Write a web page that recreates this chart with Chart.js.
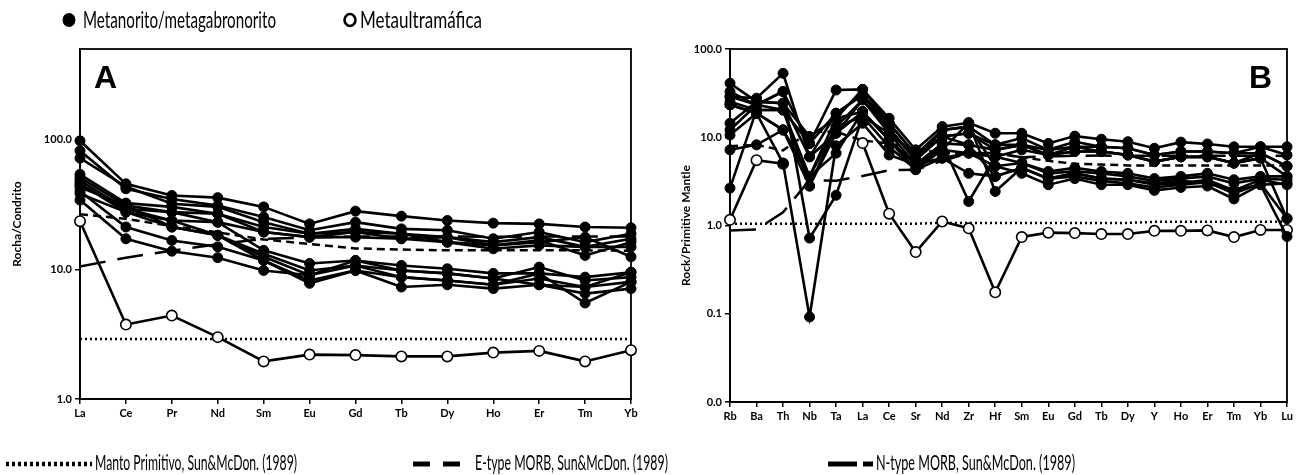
<!DOCTYPE html>
<html>
<head>
<meta charset="utf-8">
<script src="https://cdn.jsdelivr.net/npm/chart.js@4.4.1/dist/chart.umd.min.js"></script>
<style>
  html, body { margin: 0; padding: 0; background: #fff; }
  body { width: 1303px; height: 475px; position: relative; overflow: hidden; font-family: Lato, "Noto Sans", sans-serif; color: #000; }
  canvas { position: absolute; top: 0; }
  #cA { left: 0; }
  #cB { left: 660px; }
  .txt { position: absolute; white-space: nowrap; transform-origin: 0 50%; line-height: 1; }
  svg.sw { position: absolute; left: 0; top: 0; }
</style>
</head>
<body>
<canvas id="cA" width="660" height="430"></canvas>
<canvas id="cB" width="643" height="430"></canvas>

<svg class="sw" width="1303" height="475">
  <!-- series keys -->
  <ellipse cx="69" cy="20" rx="6.5" ry="7" fill="#000"/>
  <ellipse cx="350" cy="20" rx="5.5" ry="6" fill="#fff" stroke="#000" stroke-width="2.6"/>
  <!-- reference line keys -->
  <line x1="6" y1="464" x2="92" y2="464" stroke="#000" stroke-width="4.5" stroke-dasharray="3 3"/>
  <line x1="413" y1="464" x2="470" y2="464" stroke="#000" stroke-width="5" stroke-dasharray="17 13"/>
  <line x1="828" y1="464" x2="857" y2="464" stroke="#000" stroke-width="5"/>
  <line x1="863" y1="464" x2="873" y2="464" stroke="#000" stroke-width="5"/>
</svg>

<div class="txt" data-w="193" style="left:83px;top:7px;font-size:24px;">Metanorito/metagabronorito</div>
<div class="txt" data-w="122" style="left:360px;top:7px;font-size:24px;">Metaultramáfica</div>
<div class="txt" data-w="202" style="left:95px;top:451px;font-size:22px;">Manto Primitivo, Sun&amp;McDon. (1989)</div>
<div class="txt" data-w="193" style="left:475px;top:451px;font-size:22px;">E-type MORB, Sun&amp;McDon. (1989)</div>
<div class="txt" data-w="199" style="left:876px;top:451px;font-size:22px;">N-type MORB, Sun&amp;McDon. (1989)</div>

<script>
// ---------- Panel A: chondrite-normalised REE ----------
const reeLabels = ['La','Ce','Pr','Nd','Sm','Eu','Gd','Tb','Dy','Ho','Er','Tm','Yb'];
const reeTicks = [1, 10, 100];

// metanorito / metagabronorito samples
const reeS1  = [98,   45.6, 37.1, 35.7, 30.3, 22.4, 28.1, 25.7, 23.8, 22.7, 22.4, 21.2, 20.9];
const reeS2  = [82,   41.8, 34.9, 31.0, 25.3, 20.0, 23.1, 20.5, 20.0, 17.2, 19.4, 16.2, 18.8];
const reeS3  = [72,   43.5, 32.0, 30.3, 23.1, 18.8, 20.5, 18.8, 17.7, 16.2, 17.7, 14.9, 17.2];
const reeS4  = [54,   32.4, 30.3, 26.8, 21.2, 18.8, 19.4, 17.2, 17.7, 15.3, 16.7, 12.8, 16.2];
const reeS5  = [51,   31.0, 27.6, 26.8, 19.4, 17.7, 17.7, 17.2, 16.2, 14.4, 15.3, 14.9, 14.9];
const reeS6  = [45,   29.3, 23.8, 23.1, 19.4, 17.7, 19.4, 18.8, 16.2, 15.3, 16.2, 17.7, 12.5];
const reeS7  = [48.4, 29.3, 27.6, 23.1, 14.0, 11.1, 11.7, 10.7, 10.1,  9.3,  9.3,  8.7,  9.5];
const reeS8  = [46,   27.6, 23.8, 18.3, 13.2,  9.8, 10.7,  9.8,  9.3,  8.5, 10.4,  8.2,  8.7];
const reeS9  = [43,   31.0, 21.2, 18.3, 12.5,  9.0, 10.7,  8.7,  8.2,  7.6,  8.5,  7.3,  8.0];
const reeS10 = [38.3, 27.6, 21.2, 18.3, 11.7,  8.2,  9.8,  7.3,  7.6,  7.1,  7.6,  6.5,  7.1];
const reeS11 = [40,   21.2, 16.7, 14.9, 11.7,  7.8,  9.8,  8.7,  8.2,  7.6,  9.3,  5.5,  8.0];
const reeS12 = [34.2, 17.2, 13.8, 12.3,  9.8,  9.0, 11.7,  9.8,  9.3,  8.5,  7.6,  7.3,  9.5];
// metaultramáfica
const reeUM  = [23.5, 3.75, 4.4, 3.0, 1.95, 2.2, 2.18, 2.13, 2.13, 2.28, 2.35, 1.95, 2.38];
// Sun & McDonough (1989) references
const reePM   = [2.9, 2.9, 2.9, 2.9, 2.9, 2.9, 2.9, 2.9, 2.9, 2.9, 2.9, 2.9, 2.9];
const reeEMORB = [26.6, 24.5, 21.6, 19.3, 17.0, 15.7, 14.5, 14.2, 14.0, 14.0, 14.0, 14.0, 13.9];
const reeNMORB = [10.5, 12.3, 13.9, 15.6, 17.2, 17.6, 17.9, 17.9, 17.9, 17.8, 17.9, 17.9, 17.9];

// ---------- Panel B: primitive-mantle-normalised spider diagram ----------
const spLabels = ['Rb','Ba','Th','Nb','Ta','La','Ce','Sr','Nd','Zr','Hf','Sm','Eu','Gd','Tb','Dy','Y','Ho','Er','Tm','Yb','Lu'];
const spTicks = [0.01, 0.1, 1, 10, 100];

const spS1  = [40.9, 25.3, 24.3, 10.2, 16.4, 34.9, 16.4, 7.2, 13.2, 14.6, 11.1, 11.1, 8.5, 10.3, 9.5, 8.9, 7.5, 8.8, 8.4, 7.8, 7.8, 7.8];
const spS2  = [32.9, 23.3, 32.9,  8.5, 34.3, 34.9, 14.4, 6.3, 12.1, 13.2,  8.2,  9.8, 7.2,  8.9, 7.8, 7.5, 6.3, 6.9, 6.9, 6.6, 7.8, 6.3];
const spS3  = [28.9, 27.7, 53,    6.0, 18.7, 30.1, 12.6, 5.5, 10.2, 11.1,  7.2,  8.2, 7.2,  7.8, 7.8, 7.5, 6.3, 6.9, 6.9, 6.6, 6.6, 4.7];
const spS4  = [25.3, 20.4, 20.4,  3.6, 13.2, 26.5, 11.1, 4.9,  8.5,  8.2,  7.2,  8.2, 6.3,  6.9, 6.9, 6.3, 5.3, 6.0, 6.0, 5.1, 5.8, 1.2];
const spS5  = [23.3, 18.7, 12.1,  2.8, 11.1, 19.5,  9.3, 4.3,  7.2,  6.6,  6.0,  7.2, 6.3,  6.9, 6.9, 6.3, 5.3, 6.0, 6.0, 5.1, 5.8, 3.6];
const spS6  = [28.9, 23.3, 20.4,  8.5, 18.7, 30.1, 14.4, 6.3, 10.2, 11.1,  8.2,  8.2, 6.3,  7.8, 6.9, 6.3, 5.3, 6.0, 6.0, 5.1, 6.6, 4.7];
const spS7  = [12.1, 23.3, 33,    0.72, 2.2, 17.1,  7.8, 4.3,  8.5,  1.87, 6.0,  5.1, 4.1,  4.5, 4.1, 3.9, 3.4, 3.6, 3.9, 3.3, 3.6, 3.6];
const spS8  = [10.6, 18.7,  5.1,  0.092, 8.0, 14.4, 6.3, 4.9,  7.2, 14.6,  2.43, 4.5, 3.4,  3.9, 3.4, 3.3, 2.9, 3.0, 3.3, 2.5, 2.9, 3.0];
const spS9  = [7.2,   8.2, 12.1,  3.6,  6.6, 19.5,  9.3, 4.9,  5.8,  6.6,  4.7,  3.9, 2.9,  3.4, 2.9, 2.9, 2.5, 2.7, 2.8, 2.0, 2.9, 0.75];
const spS10 = [2.65, 20.4, 20.4,  2.8, 13.2, 17.1, 11.1, 6.3, 10.2,  8.2,  3.6,  4.5, 3.4,  3.9, 3.4, 3.3, 3.0, 3.2, 3.0, 2.5, 3.3, 2.9];
const spS11 = [14.4, 25.3, 24.3,  6.0, 11.1, 26.5, 12.6, 5.5, 12.1, 13.2,  4.7,  5.1, 3.9,  4.1, 3.9, 3.6, 3.2, 3.4, 3.6, 3.0, 3.4, 3.3];
const spS12 = [23.3, 18.7, 12.1,  3.6, 16.4, 19.5,  9.3, 4.3,  5.8,  3.9,  3.6,  4.5, 3.4,  3.6, 3.2, 3.0, 2.7, 2.9, 3.1, 2.3, 3.0, 1.2];
const spUM  = [1.16, 5.5, 5.0, null, null, 8.6, 1.36, 0.5, 1.11, 0.93, 0.175, 0.74, 0.83, 0.82, 0.80, 0.80, 0.87, 0.87, 0.88, 0.74, 0.89, 0.89];
const spPM    = [1.05, 1.05, 1.05, 1.05, 1.05, 1.05, 1.05, 1.05, 1.07, 1.07, 1.07, 1.07, 1.07, 1.07, 1.07, 1.07, 1.1, 1.1, 1.1, 1.1, 1.1, 1.1];
const spEMORB = [7.9, 8.2, 7.1, 11.6, 11.5, 9.2, 8.5, 7.4, 6.6, 6.5, 6.6, 5.9, 5.4, 5.0, 4.9, 4.8, 4.8, 4.8, 4.8, 4.8, 4.8, 4.8];
const spNMORB = [0.88, 0.90, 1.41, 3.27, 3.22, 3.64, 4.23, 4.27, 5.39, 6.61, 6.63, 5.92, 6.07, 6.17, 6.20, 6.17, 6.15, 6.16, 6.19, 6.16, 6.19, 6.15];

// ---------- styling helpers ----------
const TICK_FONT = { family: 'Lato, "Noto Sans", sans-serif', size: 11, weight: 'bold' };
const TITLE_FONT = { family: 'Lato, "Noto Sans", sans-serif', size: 12, weight: 'bold' };

function sample(data, filled) {
  return {
    data, borderColor: '#000', borderWidth: 2.6,
    pointRadius: filled ? 5 : 5.2, pointHoverRadius: 5,
    pointBackgroundColor: filled ? '#000' : '#fff',
    pointBorderColor: '#000', pointBorderWidth: filled ? 1 : 1.6,
    clip: false, spanGaps: false, order: filled ? 1 : 2
  };
}
function reference(data, dash, width) {
  return {
    data, borderColor: '#000', borderWidth: width, borderDash: dash,
    borderCapStyle: 'butt', pointRadius: 0, clip: false, order: 3
  };
}

// draws the closed frame and the panel letter
const framePlugin = {
  id: 'frame',
  beforeDatasetsDraw(chart, args, opts) {
    const a = chart.chartArea, ctx = chart.ctx;
    ctx.save();
    ctx.strokeStyle = '#000';
    ctx.lineWidth = 1.8;
    ctx.strokeRect(a.left, a.top, a.right - a.left, a.bottom - a.top);
    ctx.font = 'bold 32px "Liberation Sans", Arial, sans-serif';
    ctx.fillStyle = '#000';
    ctx.textBaseline = 'alphabetic';
    ctx.textAlign = opts.align;
    ctx.fillText(opts.letter, opts.x, opts.y);
    ctx.restore();
  }
};

function makePanel(canvasId, labels, sets, ticks, yMin, yMax, dims) {
  return new Chart(document.getElementById(canvasId), {
    type: 'line',
    data: { labels, datasets: sets },
    options: {
      responsive: false, animation: false, devicePixelRatio: 1,
      layout: { padding: { left: 0, top: dims.top, right: dims.right, bottom: 0 } },
      plugins: { legend: { display: false }, tooltip: { enabled: false }, frame: dims.frame },
      scales: {
        x: {
          type: 'category', offset: false,
          grid: { display: true, drawOnChartArea: false, drawTicks: true, tickLength: 5, color: '#000', lineWidth: 1.5 },
          border: { display: true, color: '#000', width: 1.8 },
          ticks: { color: '#000', font: TICK_FONT, padding: 3, maxRotation: 0, autoSkip: false },
          afterFit: s => { s.height = dims.xh; }
        },
        y: {
          type: 'logarithmic', min: yMin, max: yMax,
          grid: { display: true, drawOnChartArea: false, drawTicks: true, tickLength: 5, color: '#000', lineWidth: 1.5 },
          border: { display: true, color: '#000', width: 1.8 },
          afterBuildTicks: s => { s.ticks = ticks.map(v => ({ value: v })); },
          ticks: { color: '#000', font: TICK_FONT, padding: 3, callback: v => Number(v).toFixed(1) },
          title: { display: true, text: dims.title, color: '#000', font: TITLE_FONT, padding: { top: dims.titlePad, bottom: 0 } },
          afterFit: s => { s.width = dims.yw; }
        }
      }
    },
    plugins: [framePlugin]
  });
}

makePanel('cA', reeLabels, [
  sample(reeUM, false),
  sample(reeS1, true), sample(reeS2, true), sample(reeS3, true), sample(reeS4, true),
  sample(reeS5, true), sample(reeS6, true), sample(reeS7, true), sample(reeS8, true),
  sample(reeS9, true), sample(reeS10, true), sample(reeS11, true), sample(reeS12, true),
  reference(reePM, [2, 3], 2.5),
  reference(reeEMORB, [8, 5], 2.5),
  reference(reeNMORB, [26, 12], 2.5)
], reeTicks, 1, 500, {
  top: 49, right: 29, xh: 31, yw: 80, title: 'Rocha/Condrito', titlePad: 10,
  frame: { letter: 'A', x: 94, y: 88, align: 'left' }
});

makePanel('cB', spLabels, [
  sample(spUM, false),
  sample(spS1, true), sample(spS2, true), sample(spS3, true), sample(spS4, true),
  sample(spS5, true), sample(spS6, true), sample(spS7, true), sample(spS8, true),
  sample(spS9, true), sample(spS10, true), sample(spS11, true), sample(spS12, true),
  reference(spPM, [2, 3], 2.5),
  reference(spEMORB, [8, 5], 2.5),
  reference(spNMORB, [26, 12], 2.5)
], spTicks, 0.01, 100, {
  top: 49, right: 16, xh: 28, yw: 70, title: 'Rock/Primitive Mantle', titlePad: 19,
  frame: { letter: 'B', x: 612, y: 88, align: 'right' }
});

// squeeze legend text to its printed width
function fitLegendText() {
  document.querySelectorAll('.txt').forEach(el => {
    el.style.transform = 'none';
    const w = el.getBoundingClientRect().width;
    el.style.transform = 'scaleX(' + (Number(el.dataset.w) / w) + ')';
  });
}
fitLegendText();
if (document.fonts && document.fonts.ready) document.fonts.ready.then(fitLegendText);
</script>
</body>
</html>
